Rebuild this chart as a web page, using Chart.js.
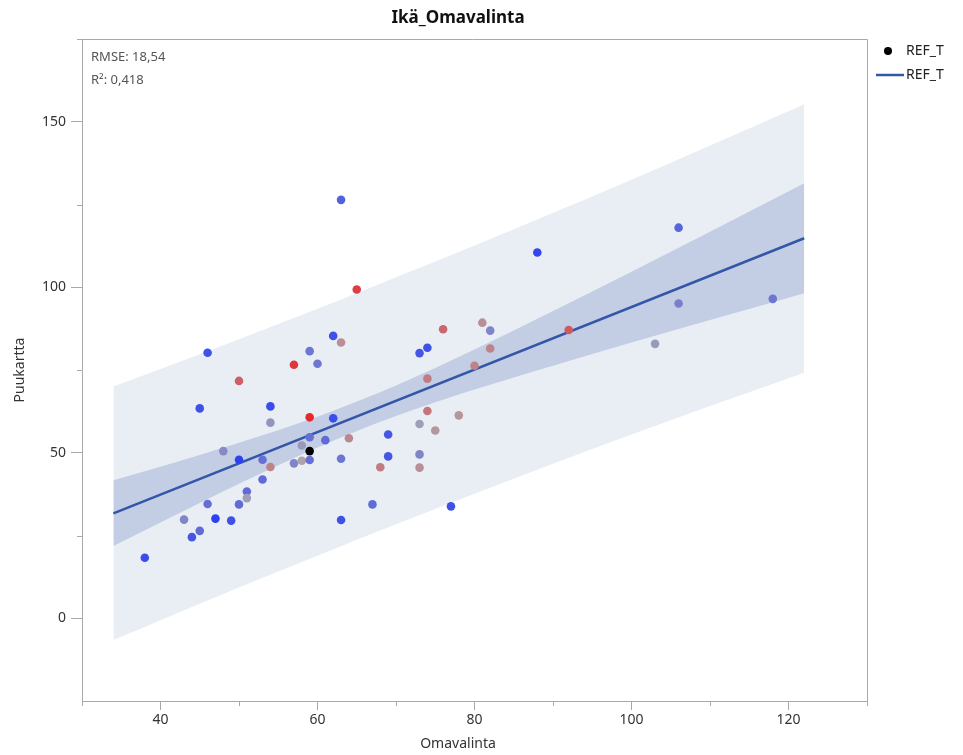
<!DOCTYPE html>
<html>
<head>
<meta charset="utf-8">
<script src="https://cdn.jsdelivr.net/npm/chart.js@4.4.1/dist/chart.umd.min.js"></script>
<style>
  html, body { margin: 0; padding: 0; background: #fff; }
  #wrap { width: 963px; height: 755px; }
</style>
</head>
<body>
<div id="wrap"><canvas id="fit"></canvas></div>
<script>
// observations: Omavalinta (x), Puukartta (y) and a colour score (-1 blue .. 1 red, null = black)
const omavalinta = [38, 46, 50, 45, 57, 59, 60, 62, 63, 54, 54, 59, 62, 48, 50, 53, 54, 59, 61, 64,
  58, 59, 57, 58, 59, 63, 53, 51, 51, 46, 50, 43, 47, 49, 45, 44, 63, 67, 68, 63,
  88, 65, 76, 81, 82, 73, 74, 82, 80, 92, 74, 74, 78, 73, 75, 69, 69, 73, 73, 106,
  106, 118, 103, 77];
const puukartta = [18.3, 80.2, 71.7, 63.4, 76.6, 80.7, 76.9, 85.3, 83.3, 64.0, 59.1, 60.7, 60.4, 50.5, 47.9, 47.9, 45.7, 54.7, 53.8, 54.4,
  52.2, 50.5, 46.8, 47.6, 47.8, 48.2, 41.9, 38.3, 36.3, 34.5, 34.4, 29.8, 30.1, 29.5, 26.4, 24.5, 29.7, 34.4, 45.6, 126.4,
  110.5, 99.3, 87.3, 89.3, 86.9, 80.1, 81.7, 81.5, 76.3, 87.1, 72.4, 62.6, 61.3, 58.7, 56.7, 55.5, 48.9, 49.5, 45.5, 118.0,
  95.1, 96.5, 82.9, 33.8];
const colorScore = [-0.9, -0.85, 0.55, -0.85, 0.85, -0.5, -0.5, -0.85, 0.2, -0.9, -0.2, 0.95, -0.9, -0.3, -1, -0.55, 0.3, -0.55, -0.6, 0.25,
  -0.15, null, -0.35, 0.05, -0.55, -0.5, -0.6, -0.6, -0.1, -0.55, -0.6, -0.35, -1, -0.85, -0.6, -0.8, -0.85, -0.6, 0.35, -0.7,
  -0.95, 0.8, 0.5, 0.2, -0.35, -0.8, -0.85, 0.3, 0.3, 0.6, 0.35, 0.4, 0.15, -0.1, 0.15, -0.8, -0.8, -0.35, 0.2, -0.65,
  -0.4, -0.5, -0.15, -0.85];

// fitted line and its bands
const fitX = [34, 122];
const fitY = [31.7, 114.8];
const bandX = [34, 40, 50, 60, 65.5, 70, 80, 90, 100, 110, 122];
const ciUpper = [41.7, 45.8, 53.0, 60.9, 65.9, 70.3, 81.2, 92.8, 104.7, 116.8, 131.4];
const ciLower = [21.8, 28.9, 40.6, 51.6, 57.0, 61.1, 69.1, 76.3, 83.3, 90.1, 98.2];
const piUpper = [70.0, 75.3, 84.3, 93.5, 98.7, 103.0, 112.6, 122.5, 132.5, 142.8, 155.3];
const piLower = [-6.6, -0.6, 9.3, 18.9, 24.2, 28.4, 37.6, 46.7, 55.5, 64.1, 74.2];

const xTicks = [40, 60, 80, 100, 120];
const yTicks = [0, 50, 100, 150];
const stats = ['RMSE: 18,54', 'R\u00b2: 0,418'];
const legendLabels = ['REF_T', 'REF_T'];

const FONT = '"Noto Sans", "Open Sans", sans-serif';
const lineBlue = 'rgb(52, 86, 168)';
const frameGrey = '#a9a9a9';

// blue -> grey -> red colour scale
const blue = [45, 65, 240], grey = [172, 170, 178], red = [232, 35, 40];
const tone = (c) => {
  if (c === null || c === undefined) return '#000';
  const t = Math.abs(c);
  const end = c < 0 ? blue : red;
  const mix = grey.map((g, i) => Math.round(g + (end[i] - g) * t));
  return `rgb(${mix[0]}, ${mix[1]}, ${mix[2]})`;
};

const pts = (xs, ys) => xs.map((x, i) => ({ x: x, y: ys[i] }));

// frame, minor ticks, title, stats box text, axis titles and legend
const decor = {
  id: 'decor',
  afterDraw(chart) {
    const { ctx, chartArea: a, scales } = chart;
    ctx.save();
    ctx.strokeStyle = frameGrey;
    ctx.lineWidth = 1;
    ctx.beginPath();
    ctx.moveTo(a.left - 5, a.top + 0.5); ctx.lineTo(a.right + 0.5, a.top + 0.5);
    ctx.lineTo(a.right + 0.5, a.bottom);
    ctx.stroke();

    // minor ticks
    ctx.beginPath();
    [25, 75, 125].forEach(v => {
      const y = Math.round(scales.y.getPixelForValue(v)) + 0.5;
      ctx.moveTo(a.left - 5, y); ctx.lineTo(a.left, y);
    });
    [30, 50, 70, 90, 110, 130].forEach(v => {
      const x = Math.round(scales.x.getPixelForValue(v)) + 0.5;
      ctx.moveTo(x, a.bottom); ctx.lineTo(x, a.bottom + 5);
    });
    ctx.stroke();

    ctx.fillStyle = '#111';
    ctx.font = `bold 17px ${FONT}`;
    ctx.textAlign = 'center';
    ctx.textBaseline = 'middle';
    ctx.fillText('Ikä_Omavalinta', 458, 18);

    ctx.fillStyle = '#333';
    ctx.font = `14px ${FONT}`;
    ctx.fillText('Omavalinta', 458, 744);
    ctx.save();
    ctx.translate(20, (a.top + a.bottom) / 2);
    ctx.rotate(-Math.PI / 2);
    ctx.fillText('Puukartta', 0, 0);
    ctx.restore();

    ctx.textAlign = 'left';
    ctx.fillStyle = '#555';
    ctx.font = `13px ${FONT}`;
    ctx.fillText(stats[0], a.left + 9, a.top + 18);
    ctx.fillText(stats[1], a.left + 9, a.top + 41);

    // legend
    ctx.fillStyle = '#000';
    ctx.beginPath();
    ctx.arc(888, 51, 4, 0, Math.PI * 2);
    ctx.fill();
    ctx.strokeStyle = lineBlue;
    ctx.lineWidth = 2.5;
    ctx.beginPath();
    ctx.moveTo(876, 75); ctx.lineTo(904, 75);
    ctx.stroke();
    ctx.fillStyle = '#222';
    ctx.font = `14px ${FONT}`;
    ctx.fillText(legendLabels[0], 906, 51);
    ctx.fillText(legendLabels[1], 906, 75);
    ctx.restore();
  }
};

new Chart(document.getElementById('fit'), {
  type: 'scatter',
  data: {
    datasets: [
      {
        data: pts(omavalinta, puukartta),
        pointRadius: 4.3,
        pointHoverRadius: 4.3,
        borderWidth: 0,
        backgroundColor: (c) => tone(colorScore[c.dataIndex]),
      },
      {
        data: pts(fitX, fitY),
        showLine: true, pointRadius: 0,
        borderColor: lineBlue, borderWidth: 2.5,
      },
      {
        data: pts(bandX, ciUpper),
        showLine: true, pointRadius: 0, borderWidth: 0,
        cubicInterpolationMode: 'monotone',
        fill: '+1', backgroundColor: 'rgb(195, 205, 228)',
      },
      {
        data: pts(bandX, ciLower),
        showLine: true, pointRadius: 0, borderWidth: 0,
        cubicInterpolationMode: 'monotone',
      },
      {
        data: pts(bandX, piUpper),
        showLine: true, pointRadius: 0, borderWidth: 0,
        cubicInterpolationMode: 'monotone',
        fill: '+1', backgroundColor: 'rgb(233, 238, 245)',
      },
      {
        data: pts(bandX, piLower),
        showLine: true, pointRadius: 0, borderWidth: 0,
        cubicInterpolationMode: 'monotone',
      },
    ]
  },
  options: {
    responsive: true,
    maintainAspectRatio: false,
    animation: false,
    layout: { padding: { left: 0, top: 39, right: 96, bottom: 0 } },
    plugins: {
      legend: { display: false },
      tooltip: { enabled: false },
      title: { display: false },
    },
    scales: {
      x: {
        type: 'linear', min: 30, max: 130,
        afterFit: (s) => { s.height = 54; },
        afterBuildTicks: (s) => { s.ticks = xTicks.map(v => ({ value: v })); },
        ticks: { color: '#333', font: { family: FONT, size: 14 }, padding: 2, maxRotation: 0 },
        grid: { drawOnChartArea: false, tickLength: 9, tickColor: frameGrey },
        border: { color: frameGrey },
      },
      y: {
        type: 'linear', min: -25, max: 175,
        afterFit: (s) => { s.width = 82; },
        afterBuildTicks: (s) => { s.ticks = yTicks.map(v => ({ value: v })); },
        ticks: { color: '#333', font: { family: FONT, size: 14 }, padding: 5 },
        grid: { drawOnChartArea: false, tickLength: 11, tickColor: frameGrey },
        border: { color: frameGrey },
      },
    }
  },
  plugins: [decor]
});
</script>
</body>
</html>
